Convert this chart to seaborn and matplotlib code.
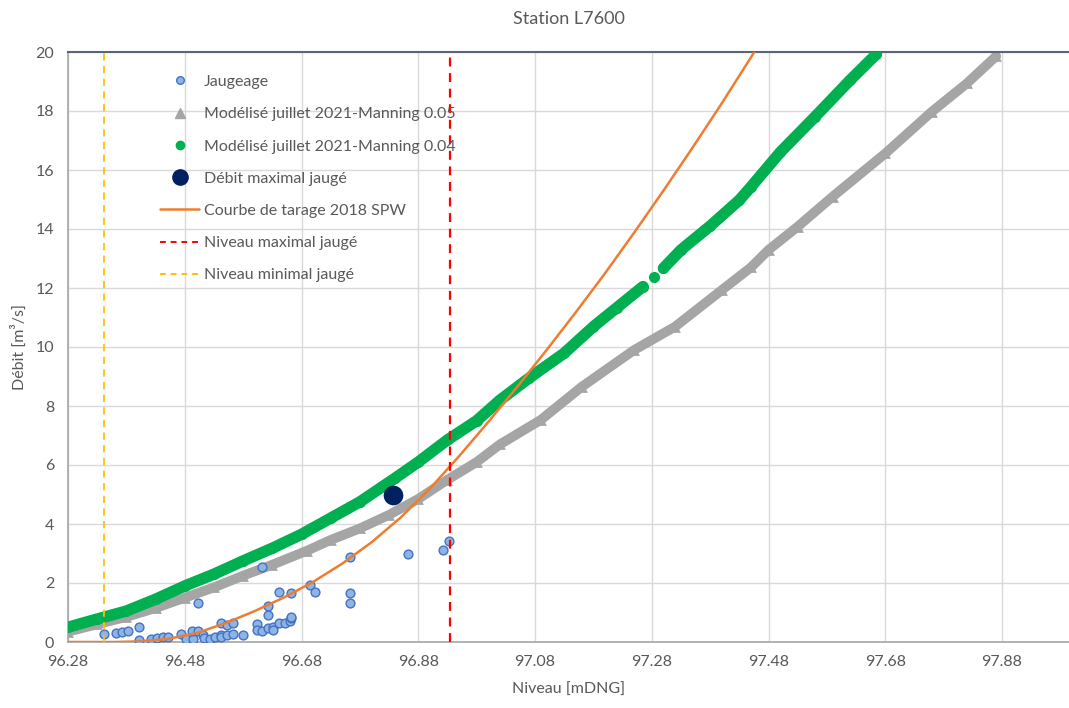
import numpy as np
import pandas as pd
import matplotlib
matplotlib.use("Agg")
import matplotlib.pyplot as plt
from matplotlib.lines import Line2D
import seaborn as sns

# --------- données --------------------------------
JAUG_NIVEAU = [96.342, 96.363, 96.372, 96.382, 96.402, 96.402, 96.422, 96.432, 96.443, 96.452,
               96.473, 96.482, 96.494, 96.492, 96.502, 96.502, 96.512, 96.513, 96.523, 96.532,
               96.542, 96.542, 96.552, 96.562, 96.542, 96.552, 96.562, 96.580, 96.603, 96.603,
               96.612, 96.623, 96.623, 96.623, 96.632, 96.632, 96.642, 96.652, 96.660, 96.662,
               96.662, 96.612, 96.642, 96.662, 96.694, 96.703, 96.763, 96.763, 96.763, 96.863,
               96.923, 96.933]
JAUG_DEBIT = [0.26, 0.29, 0.34, 0.37, 0.50, 0.07, 0.10, 0.15, 0.18, 0.18,
              0.26, 0.09, 0.09, 0.37, 0.37, 1.33, 0.24, 0.13, 0.09, 0.18,
              0.24, 0.16, 0.24, 0.26, 0.65, 0.58, 0.63, 0.24, 0.61, 0.41,
              0.38, 0.92, 1.22, 0.46, 0.52, 0.41, 0.63, 0.65, 0.72, 0.80,
              0.86, 2.55, 1.70, 1.67, 1.93, 1.70, 2.87, 1.67, 1.33, 2.98,
              3.12, 3.42]

GRAY_NIVEAU = [96.28, 96.33, 96.38, 96.43, 96.48, 96.53, 96.58, 96.63, 96.69, 96.73,
               96.78, 96.83, 96.88, 96.93, 96.98, 97.02, 97.09, 97.16, 97.25, 97.32,
               97.40, 97.45, 97.48, 97.53, 97.59, 97.68, 97.76, 97.82, 97.87]
GRAY_DEBIT = [0.35, 0.60, 0.85, 1.15, 1.50, 1.85, 2.25, 2.62, 3.10, 3.46,
              3.85, 4.31, 4.85, 5.50, 6.10, 6.70, 7.53, 8.65, 9.90, 10.69,
              11.93, 12.70, 13.29, 14.08, 15.10, 16.56, 17.98, 18.94, 19.86]

GREEN_NIVEAU = [96.28, 96.33, 96.38, 96.43, 96.48, 96.53, 96.58, 96.63, 96.68, 96.73,
                96.78, 96.84, 96.88, 96.93, 96.98, 97.02, 97.07, 97.13, 97.18, 97.22,
                97.265, 97.284, 97.30, 97.33, 97.38, 97.43, 97.45, 97.50, 97.56, 97.62,
                97.665]
GREEN_DEBIT = [0.50, 0.78, 1.05, 1.45, 1.90, 2.30, 2.75, 3.18, 3.65, 4.20,
               4.75, 5.55, 6.10, 6.85, 7.50, 8.20, 8.95, 9.79, 10.69, 11.33,
               12.05, 12.36, 12.67, 13.29, 14.10, 14.98, 15.43, 16.60, 17.81, 19.05,
               19.93]

COURBE_NIVEAU = [96.28, 96.36, 96.40, 96.45, 96.50, 96.55, 96.60, 96.65, 96.70, 96.75,
                 96.80, 96.85, 96.90, 96.95, 97.00, 97.05, 97.10, 97.15, 97.20, 97.25,
                 97.30, 97.35, 97.40, 97.45, 97.47]
COURBE_DEBIT = [0.0, 0.0, 0.02, 0.10, 0.30, 0.64, 1.05, 1.51, 2.04, 2.66,
                3.38, 4.22, 5.20, 6.30, 7.46, 8.66, 9.90, 11.18, 12.50, 13.88,
                15.30, 16.76, 18.26, 19.82, 20.45]

MAX_NIVEAU = [96.837]
MAX_DEBIT = [4.98]
NIVEAU_MAX_JAUGE = 96.934
NIVEAU_MIN_JAUGE = 96.342

X_TICKS = [96.28, 96.48, 96.68, 96.88, 97.08, 97.28, 97.48, 97.68, 97.88]
Y_TICKS = [0, 2, 4, 6, 8, 10, 12, 14, 16, 18, 20]
# --------------------------------------------------

TXT = "#595959"
sns.set_theme(style="whitegrid")
plt.rcParams['font.family'] = ['Lato', 'DejaVu Sans']

fig = plt.figure(figsize=(10.69, 7.08), dpi=100)
ax = fig.add_axes([68 / 1069, 66 / 708, 1001 / 1069, 590 / 708])

gray = pd.DataFrame({'niveau': GRAY_NIVEAU, 'debit': GRAY_DEBIT})
green = pd.DataFrame({'niveau': GREEN_NIVEAU, 'debit': GREEN_DEBIT})
jaug = pd.DataFrame({'niveau': JAUG_NIVEAU, 'debit': JAUG_DEBIT})
courbe = pd.DataFrame({'niveau': COURBE_NIVEAU, 'debit': COURBE_DEBIT})

# modele Manning 0.05 (bande grise)
ax.plot(gray['niveau'], gray['debit'], color="#a5a5a5", lw=7, solid_capstyle='round', zorder=2)
sns.scatterplot(data=gray, x='niveau', y='debit', marker='^', s=60, color="#a5a5a5",
                edgecolor="#a5a5a5", linewidth=0, ax=ax, zorder=2)

# modele Manning 0.04 (bande verte), petit trou vers 97.27
seg1 = green[green['niveau'] <= 97.265]
seg2 = green[green['niveau'] >= 97.30]
for seg in (seg1, seg2):
    ax.plot(seg['niveau'], seg['debit'], color="#00b050", lw=8.2, solid_capstyle='round', zorder=3)
sns.scatterplot(data=green, x='niveau', y='debit', marker='o', s=64, color="#00b050",
                linewidth=0, ax=ax, zorder=3)

# jaugeages
sns.scatterplot(data=jaug, x='niveau', y='debit', marker='o', s=40, color="#8eb4e3",
                edgecolor="#4472c4", linewidth=1.0, ax=ax, zorder=4)

# courbe de tarage
sns.lineplot(data=courbe, x='niveau', y='debit', color="#ed7d31", lw=1.8, ax=ax, zorder=5)

# debit maximal
sns.scatterplot(x=MAX_NIVEAU, y=MAX_DEBIT, marker='o', s=200, color="#002060",
                linewidth=0, ax=ax, zorder=6)

ax.axvline(NIVEAU_MAX_JAUGE, color="#ff0000", lw=1.6, ls=(0, (4, 3)), zorder=5)
ax.axvline(NIVEAU_MIN_JAUGE, color="#ffc000", lw=1.3, ls=(0, (4, 3)), zorder=5)

ax.set_xlim(96.28, 96.28 + 1001 / 583.75)
ax.set_ylim(0, 20)
ax.set_xticks(X_TICKS)
ax.set_xticklabels([f"{t:.2f}" for t in X_TICKS])
ax.set_yticks(Y_TICKS)
ax.grid(True, color="#d9d9d9", lw=1.0)
ax.tick_params(axis='both', labelsize=11.5, colors=TXT, length=0)
ax.tick_params(axis='x', pad=9)
ax.tick_params(axis='y', pad=10)

ax.spines['right'].set_visible(False)
ax.spines['top'].set_color("#5b6577")
ax.spines['top'].set_linewidth(1.5)
ax.spines['left'].set_color("#a6a6a6")
ax.spines['bottom'].set_color("#a6a6a6")
ax.spines['left'].set_linewidth(1.2)
ax.spines['bottom'].set_linewidth(1.2)

ax.set_xlabel("Niveau [mDNG]", fontsize=11.5, color=TXT, labelpad=10)
ax.set_ylabel("Débit [m³/s]", fontsize=11.5, color=TXT, labelpad=6)
ax.set_title("Station L7600", fontsize=13, color=TXT, pad=20)

handles = [
    Line2D([], [], ls='none', marker='o', ms=5.5, mfc="#8eb4e3", mec="#4472c4", mew=1),
    Line2D([], [], ls='none', marker='^', ms=7, mfc="#a5a5a5", mec="#a5a5a5"),
    Line2D([], [], ls='none', marker='o', ms=6, mfc="#00b050", mec="#00b050"),
    Line2D([], [], ls='none', marker='o', ms=11, mfc="#002060", mec="#002060"),
    Line2D([], [], color="#ed7d31", lw=1.8),
    Line2D([], [], color="#ff0000", lw=1.4, ls=(0, (3, 2.5))),
    Line2D([], [], color="#ffc000", lw=1.4, ls=(0, (3, 2.5))),
]
labels = ["Jaugeage", "Modélisé juillet 2021-Manning 0.05", "Modélisé juillet 2021-Manning 0.04",
          "Débit maximal jaugé", "Courbe de tarage 2018 SPW", "Niveau maximal jaugé",
          "Niveau minimal jaugé"]
leg = ax.legend(handles, labels, loc='upper left', bbox_to_anchor=(0.086, 0.972),
                frameon=False, fontsize=11.5, labelspacing=1.13, handlelength=2.4,
                handletextpad=0.3, borderaxespad=0)
for t in leg.get_texts():
    t.set_color(TXT)

fig.savefig("out.png", dpi=100)
